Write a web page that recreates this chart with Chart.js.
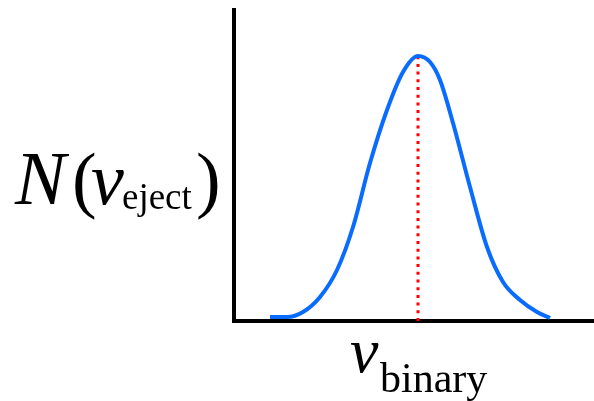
<!DOCTYPE html>
<html>
<head>
<meta charset="utf-8">
<script src="https://cdn.jsdelivr.net/npm/chart.js@4"></script>
<style>
  html, body { margin: 0; padding: 0; background: #fff; }
  #wrap { width: 594px; height: 401px; }
</style>
</head>
<body>
<div id="wrap"><canvas id="distChart"></canvas></div>
<script>
// values (arbitrary units)
let vBinary = [36, 53, 69, 86, 103, 119, 136, 153, 169, 184, 196, 206, 219, 236, 253, 269, 286, 303, 316];
let nEject  = [4, 4, 9, 24, 51, 94, 158, 211, 249, 265, 259, 241, 198, 134, 74, 39, 21, 9, 3];
let peakX = 184;
let peakY = 265;
let xMax = 360;
let yMax = 311;

let curve = vBinary.map((x, i) => ({ x: x, y: nEject[i] }));
let peakLine = [{ x: peakX, y: 0 }, { x: peakX, y: peakY }];

const serif = '"Liberation Serif", "Times New Roman", serif';

// axis labels drawn as text pieces (italic symbol + upright subscript)
const labelPlugin = {
    id: 'labels',
    afterDraw(chart) {
        const ctx = chart.ctx;
        ctx.save();
        ctx.fillStyle = '#000';
        ctx.textBaseline = 'alphabetic';
        ctx.font = 'italic 76px ' + serif;
        ctx.fillText('N', 15, 204);
        ctx.font = '74px ' + serif;
        ctx.fillText('(', 72, 204);
        ctx.font = 'italic 74px ' + serif;
        ctx.fillText('v', 91, 204);
        ctx.font = '37px ' + serif;
        ctx.fillText('eject', 122, 209);
        ctx.font = '74px ' + serif;
        ctx.fillText(')', 196, 204);

        ctx.font = 'italic 64px ' + serif;
        ctx.fillText('v', 350, 372);
        ctx.font = '42px ' + serif;
        ctx.fillText('binary', 380, 392);
        ctx.restore();
    }
};

async function init() {
    try {
        await document.fonts.load('italic 74px "Liberation Serif"');
        await document.fonts.load('74px "Liberation Serif"');
    } catch (error) {
        console.log(error);
    }

    const distChart = document.querySelector('#distChart');

    new Chart(distChart, {
        type: 'line',
        data: {
            datasets: [{
                label: 'N',
                data: curve,
                borderColor: '#0a6cff',
                borderWidth: 4,
                pointRadius: 0,
                cubicInterpolationMode: 'monotone',
                fill: false
            }, {
                label: 'peak',
                data: peakLine,
                borderColor: '#ff0000',
                borderWidth: 3,
                borderDash: [3, 4.7],
                pointRadius: 0,
                fill: false
            }]
        },
        options: {
            responsive: true,
            maintainAspectRatio: false,
            animation: false,
            layout: { padding: { left: 234, top: 10, right: 0, bottom: 80 } },
            plugins: {
                legend: { display: false },
                tooltip: { enabled: false }
            },
            scales: {
                x: {
                    type: 'linear',
                    min: 0,
                    max: xMax,
                    grid: { display: false },
                    ticks: { display: false },
                    border: { color: '#000', width: 4 },
                    afterFit(scale) { scale.height = 0; }
                },
                y: {
                    min: 0,
                    max: yMax,
                    grid: { display: false },
                    ticks: { display: false },
                    border: { color: '#000', width: 4 },
                    afterFit(scale) { scale.width = 0; }
                }
            }
        },
        plugins: [labelPlugin]
    });
}

init();
</script>
</body>
</html>
